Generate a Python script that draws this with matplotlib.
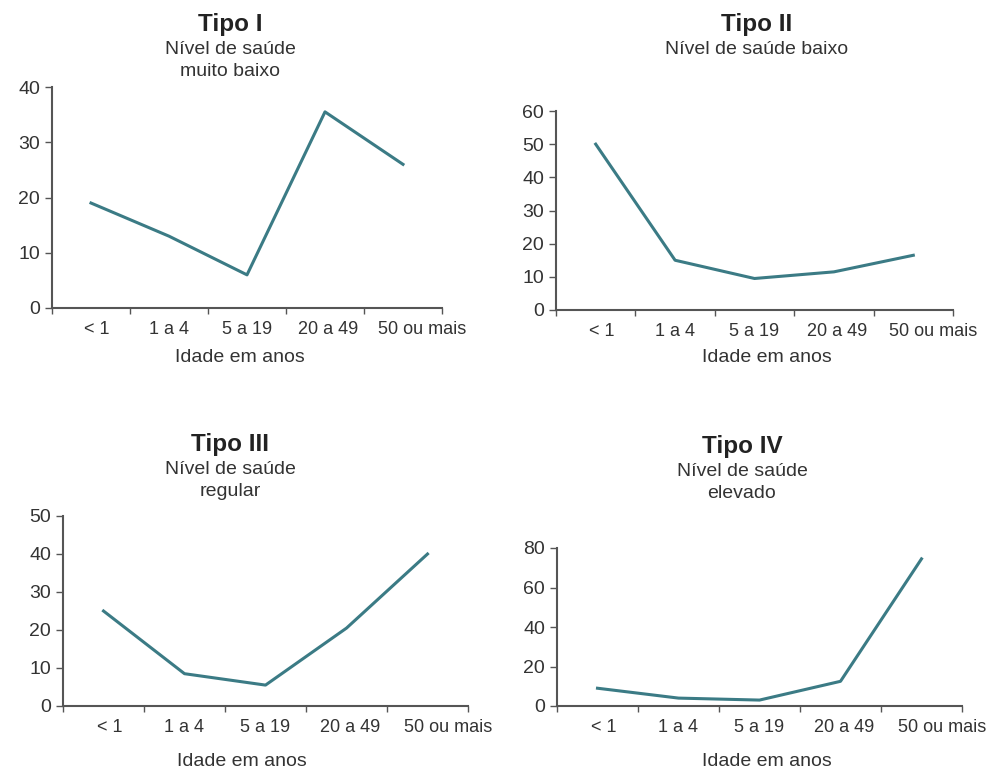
import numpy as np
import matplotlib
matplotlib.use("Agg")
import matplotlib.pyplot as plt

plt.rcParams['font.family'] = ['Liberation Sans', 'DejaVu Sans']

# data
idades = ["< 1", "1 a 4", "5 a 19", "20 a 49", "50 ou mais"]
tipo1 = [19, 13, 6, 35.5, 26]
tipo2 = [50, 15, 9.5, 11.5, 16.5]
tipo3 = [25, 8.5, 5.5, 20.5, 40]
tipo4 = [9, 4, 3, 12.5, 74.5]

titulos = ["Tipo I", "Tipo II", "Tipo III", "Tipo IV"]
subtitulos = ["Nível de saúde\nmuito baixo", "Nível de saúde baixo",
              "Nível de saúde\nregular", "Nível de saúde\nelevado"]
yticks = [[0, 10, 20, 30, 40], [0, 10, 20, 30, 40, 50, 60],
          [0, 10, 20, 30, 40, 50], [0, 20, 40, 60, 80]]
series = [tipo1, tipo2, tipo3, tipo4]

W, H = 990, 773
LINE = "#3b7b85"
TXT = "#333333"
AXC = "#555555"

# panel boxes in pixels: left, right, y of zero line, y of top
boxes = [(52, 442, 308, 87), (556, 953, 310, 111),
         (63, 468, 706, 516), (557, 962, 706, 548)]
# title y, subtitle y, title center x, xlabel y, xlabel x
labels_pos = [(24, 52, 230, 358, 240), (24, 52, 757, 358, 767),
              (444, 472, 230, 762, 242), (446, 474, 742, 762, 767)]
# labels sit a bit off the category centres in the original
label_shift = [0.08, 0, 0, 0.04, 0.25]

fig = plt.figure(figsize=(W / 100, H / 100), dpi=100)

for i in range(4):
    l, r, y0, yt = boxes[i]
    ax = fig.add_axes([l / W, 1 - y0 / H, (r - l) / W, (y0 - yt) / H])
    x = np.arange(len(idades))
    ax.plot(x, series[i], color=LINE, linewidth=2.2)
    ax.set_xlim(-0.5, len(idades) - 0.5)
    ax.set_ylim(0, yticks[i][-1])
    ax.set_yticks(yticks[i])
    ax.set_xticks(x + np.array(label_shift))
    ax.set_xticklabels(idades)
    ax.set_xticks(np.arange(len(idades) + 1) - 0.5, minor=True)
    ax.tick_params(axis='x', which='major', length=0, pad=9, labelsize=13, colors=TXT)
    ax.tick_params(axis='x', which='minor', length=4, width=1, color=AXC)
    ax.tick_params(axis='y', length=5, width=1, labelsize=14, colors=TXT, color=AXC)
    ax.spines['top'].set_visible(False)
    ax.spines['right'].set_visible(False)
    for s in ['left', 'bottom']:
        ax.spines[s].set_color(AXC)
        ax.spines[s].set_linewidth(1.5)
    ax.patch.set_alpha(0)

    ty, sy, tx, xly, xlx = labels_pos[i]
    fig.text(tx / W, 1 - ty / H, titulos[i], ha='center', va='center',
             fontsize=17.5, fontweight='bold', color="#222222")
    fig.text(tx / W, 1 - (sy - 11) / H, subtitulos[i], ha='center', va='top',
             fontsize=14, color=TXT, linespacing=1.35)
    fig.text(xlx / W, 1 - xly / H, "Idade em anos", ha='center', va='center',
             fontsize=14, color=TXT)

fig.savefig("out.png", dpi=100)
